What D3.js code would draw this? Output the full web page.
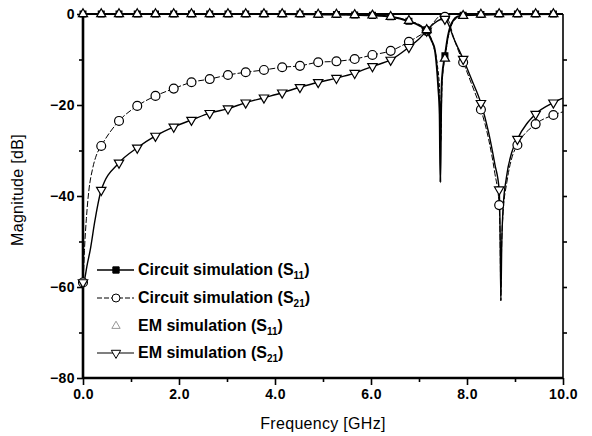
<!DOCTYPE html>
<html>
<head>
<meta charset="utf-8">
<script src="https://cdn.jsdelivr.net/npm/d3@7"></script>
<style>
  body { margin: 0; background: #fff; }
  svg { display: block; font-family: "Liberation Sans", Arial, sans-serif; }
</style>
</head>
<body>
<svg id="chart" width="592" height="436"></svg>
<script>
// marker positions (GHz), shared by all four series
const markerFreq = [0, 0.38, 0.75, 1.13, 1.51, 1.89, 2.26, 2.64, 3.02, 3.39, 3.77, 4.15, 4.52, 4.90,
  5.28, 5.66, 6.03, 6.41, 6.79, 7.16, 7.54, 7.92, 8.29, 8.67, 9.05, 9.43, 9.80];

// marker values (dB)
const circS11Marks = [0, 0, 0, 0, 0, 0, 0, 0, 0, 0, 0, 0, 0, -0.1, -0.1, -0.2, -0.3, -0.6, -1.6, -3.7, -9.2, -0.3, -0.1, 0, 0, 0, 0];
const circS21Marks = [-59, -29, -23.5, -20.2, -18, -16.4, -15, -14.3, -13.4, -12.8, -12.3, -11.7, -11.4, -10.6,
  -10.4, -9.9, -9.0, -8.1, -6.1, -3.7, -0.6, -10.6, -21, -42, -28.8, -24.2, -22.2];
const emS11Marks = [0, 0, 0, 0, 0, 0, 0, 0, 0, 0, 0, 0, 0, -0.1, -0.1, -0.2, -0.3, -0.6, -1.5, -3.5, -9.8, -0.4, -0.1, 0, 0, 0, 0];
const emS21Marks = [-59, -38.7, -32.7, -29.4, -26.8, -24.8, -23.3, -21.8, -20.8, -19.5, -18.4, -17.3, -16.1, -15.0,
  -14.1, -13.0, -11.5, -10.1, -7.3, -3.7, -1.1, -9.9, -19.6, -38.6, -27.5, -22.0, -19.5];

// traced curves [GHz, dB]
const circS11Line = [[0, 0], [2, 0], [4, 0], [5, -0.1], [5.66, -0.2], [6.03, -0.3], [6.41, -0.6], [6.79, -1.6],
  [7.0, -2.5], [7.16, -3.7], [7.26, -5.8], [7.33, -7.9], [7.37, -11.6], [7.40, -16], [7.43, -22], [7.445, -37],
  [7.46, -22], [7.48, -14], [7.54, -9.2], [7.6, -5], [7.65, -2.8], [7.72, -1.3], [7.8, -0.6], [7.92, -0.3],
  [8.5, -0.1], [10, 0]];
const emS11Line = [[0, 0], [5, -0.1], [6.03, -0.3], [6.41, -0.6], [6.79, -1.5], [7.0, -2.3], [7.16, -3.5],
  [7.3, -7], [7.38, -11], [7.43, -17], [7.455, -28], [7.475, -17], [7.5, -12.5], [7.54, -9.8], [7.6, -5.5],
  [7.66, -3], [7.75, -1.2], [7.92, -0.4], [8.5, -0.1], [10, 0]];
const circS21Line = [[0, -60], [0.03, -52], [0.07, -45], [0.12, -39], [0.2, -34], [0.28, -31], [0.38, -29],
  [0.75, -23.5], [1.13, -20.2], [1.51, -18], [1.89, -16.4], [2.26, -15], [2.64, -14.3], [3.02, -13.4],
  [3.39, -12.8], [3.77, -12.3], [4.15, -11.7], [4.52, -11.4], [4.90, -10.6], [5.28, -10.4], [5.66, -9.9],
  [6.03, -9.0], [6.41, -8.1], [6.79, -6.1], [7.0, -4.8], [7.16, -3.7], [7.3, -1.9], [7.45, -0.4], [7.54, -0.6],
  [7.63, -1.8], [7.71, -4.8], [7.8, -7.5], [7.92, -10.6], [8.1, -15.5], [8.29, -21], [8.45, -27.5],
  [8.58, -35], [8.67, -42], [8.69, -50], [8.705, -63], [8.72, -52], [8.75, -44], [8.83, -37], [8.94, -31.4],
  [9.05, -28.8], [9.43, -24.2], [9.80, -22.2], [10.0, -21.5]];
const emS21Line = [[0, -60], [0.04, -58], [0.08, -55.5], [0.15, -51.9], [0.25, -45.3], [0.38, -38.7],
  [0.75, -32.7], [1.13, -29.4], [1.51, -26.8], [1.89, -24.8], [2.26, -23.3], [2.64, -21.8], [3.02, -20.8],
  [3.39, -19.5], [3.77, -18.4], [4.15, -17.3], [4.52, -16.1], [4.90, -15.0], [5.28, -14.1], [5.66, -13.0],
  [6.03, -11.5], [6.41, -10.1], [6.79, -7.3], [7.0, -5.5], [7.16, -3.7], [7.3, -2.2], [7.45, -1.2],
  [7.54, -1.1], [7.62, -2.4], [7.71, -5], [7.82, -7.6], [7.92, -9.9], [8.1, -14.5], [8.29, -19.6],
  [8.45, -26], [8.58, -33], [8.67, -38.6], [8.69, -48], [8.705, -63], [8.725, -50], [8.75, -43],
  [8.82, -36], [8.93, -30.5], [9.05, -27.5], [9.43, -22.0], [9.80, -19.5], [10.0, -18.5]];

const xTicks = [0, 2, 4, 6, 8, 10];
const yTicks = [0, -20, -40, -60, -80];
const legendLabels = [
  ['Circuit simulation (S', '11', ')'],
  ['Circuit simulation (S', '21', ')'],
  ['EM simulation (S', '11', ')'],
  ['EM simulation (S', '21', ')']
];

const margin = { top: 14, right: 29, bottom: 58, left: 83 };
const width = 592 - margin.left - margin.right;
const height = 436 - margin.top - margin.bottom;

const svg = d3.select('#chart');
const g = svg.append('g').attr('transform', 'translate(' + margin.left + ',' + margin.top + ')');

const x = d3.scaleLinear().domain([0, 10]).range([0, width]);
const y = d3.scaleLinear().domain([-80, 0]).range([height, 0]);

// axes
const xAxis = d3.axisBottom(x).tickValues(xTicks).tickFormat(d3.format('.1f')).tickSize(7).tickPadding(4);
const xMinor = d3.axisBottom(x).tickValues([1, 3, 5, 7, 9]).tickFormat('').tickSize(4);
const yAxis = d3.axisLeft(y).tickValues(yTicks).tickFormat(d3.format('d')).tickSize(6).tickPadding(2);
const yMinor = d3.axisLeft(y).tickValues([-10, -30, -50, -70]).tickFormat('').tickSize(4);
const yRight = d3.axisRight(y).tickValues([-10, -20, -30, -40, -50, -60, -70]).tickFormat('').tickSize(4);

function styleAxis(sel) {
  sel.select('.domain').remove();
  sel.selectAll('line').attr('stroke', '#000').attr('stroke-width', 1.6);
  sel.selectAll('text').attr('fill', '#000').style('font-size', '14px').style('font-weight', 'bold')
    .style('letter-spacing', '0.4px');
}

g.append('g').attr('transform', 'translate(0,' + height + ')').call(xAxis).call(styleAxis);
g.append('g').attr('transform', 'translate(0,' + height + ')').call(xMinor).call(styleAxis);
g.append('g').call(yAxis).call(styleAxis);
g.append('g').call(yMinor).call(styleAxis);
g.append('g').attr('transform', 'translate(' + width + ',0)').call(yRight).call(styleAxis);

// frame
g.append('line').attr('x1', 0).attr('x2', 0).attr('y1', 0).attr('y2', height).attr('stroke', '#000').attr('stroke-width', 2.6);
g.append('line').attr('x1', 0).attr('x2', width).attr('y1', height).attr('y2', height).attr('stroke', '#000').attr('stroke-width', 2.6);
g.append('line').attr('x1', 0).attr('x2', width).attr('y1', 0).attr('y2', 0).attr('stroke', '#000').attr('stroke-width', 2.2);
g.append('line').attr('x1', width).attr('x2', width).attr('y1', 0).attr('y2', height).attr('stroke', '#000').attr('stroke-width', 1.6);

// axis titles
svg.append('text').attr('x', 323).attr('y', 429).attr('text-anchor', 'middle')
  .style('font-size', '16px').style('letter-spacing', '0.3px').text('Frequency [GHz]');
svg.append('text').attr('transform', 'translate(23,190) rotate(-90)').attr('text-anchor', 'middle')
  .style('font-size', '16px').style('letter-spacing', '0.3px').text('Magnitude [dB]');

const line = d3.line().x(d => x(d[0])).y(d => y(d[1])).curve(d3.curveMonotoneX);

const series = [
  { line: circS21Line, marks: circS21Marks, stroke: 1, dash: '6,2', sym: d3.symbolCircle, size: 62, fill: '#fff', rot: 0 },
  { line: emS21Line, marks: emS21Marks, stroke: 1.4, dash: null, sym: d3.symbolTriangle, size: 38, fill: '#fff', rot: 180 },
  { line: circS11Line, marks: circS11Marks, stroke: 1.9, dash: null, sym: d3.symbolSquare, size: 34, fill: '#000', rot: 0 },
  { line: emS11Line, marks: emS11Marks, stroke: 1, dash: '4,2', sym: d3.symbolTriangle, size: 36, fill: '#fff', rot: 0 }
];

series.forEach(s => {
  g.append('path').datum(s.line).attr('d', line).attr('fill', 'none').attr('stroke', '#000')
    .attr('stroke-width', s.stroke).attr('stroke-dasharray', s.dash);
});
series.forEach(s => {
  g.append('g').selectAll('path').data(markerFreq.map((f, i) => [f, s.marks[i]])).join('path')
    .attr('d', d3.symbol().type(s.sym).size(s.size))
    .attr('transform', d => 'translate(' + x(d[0]) + ',' + y(d[1]) + ') rotate(' + s.rot + ')')
    .attr('fill', s.fill).attr('stroke', '#000').attr('stroke-width', 1.2);
});

// legend
const legendRows = [270, 298, 326, 353];
const legendStyle = [
  { dash: null, w: 1.6, sym: d3.symbolSquare, size: 40, fill: '#000', rot: 0, stroke: '#000', showLine: true },
  { dash: '5,2', w: 1, sym: d3.symbolCircle, size: 50, fill: '#fff', rot: 0, stroke: '#000', showLine: true },
  { dash: null, w: 1, sym: d3.symbolTriangle, size: 30, fill: 'none', rot: 0, stroke: '#999', showLine: false },
  { dash: null, w: 1.2, sym: d3.symbolTriangle, size: 38, fill: '#fff', rot: 180, stroke: '#000', showLine: true }
];
legendRows.forEach((ly, i) => {
  const st = legendStyle[i];
  if (st.showLine) {
    svg.append('line').attr('x1', 97).attr('x2', 134).attr('y1', ly).attr('y2', ly)
      .attr('stroke', '#000').attr('stroke-width', st.w).attr('stroke-dasharray', st.dash);
  }
  svg.append('path').attr('d', d3.symbol().type(st.sym).size(st.size))
    .attr('transform', 'translate(116,' + ly + ') rotate(' + st.rot + ')')
    .attr('fill', st.fill).attr('stroke', st.stroke).attr('stroke-width', 1);
  const t = svg.append('text').attr('x', 138).attr('y', ly + 5)
    .style('font-size', '16px').style('font-weight', 'bold');
  t.append('tspan').text(legendLabels[i][0]);
  t.append('tspan').attr('dy', 4).style('font-size', '10px').text(legendLabels[i][1]);
  t.append('tspan').attr('dy', -4).text(legendLabels[i][2]);
});
</script>
</body>
</html>
